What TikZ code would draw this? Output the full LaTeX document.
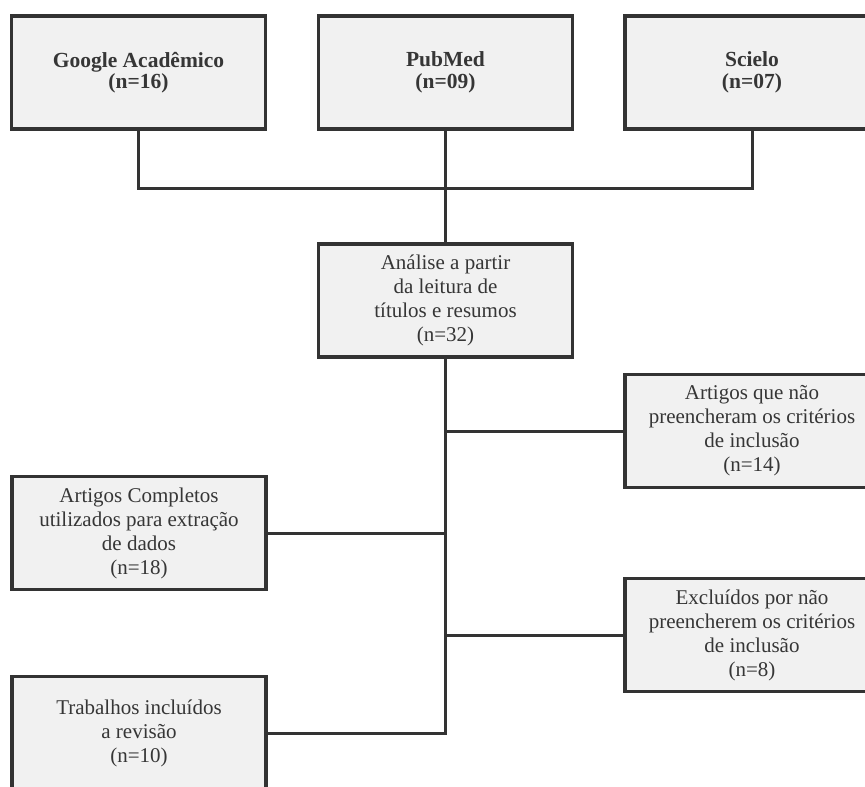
\documentclass[tikz,border=0pt]{standalone}
\usepackage{fontspec}
\setmainfont{Liberation Serif}
\definecolor{boxfill}{HTML}{F1F1F1}
\definecolor{edge}{HTML}{333333}
\definecolor{txt}{HTML}{363636}
\begin{document}
\begin{tikzpicture}[x=1pt,y=-1pt,
  box/.style={draw=edge, fill=boxfill, line width=3.2pt, minimum width=254pt, minimum height=113pt,
    inner sep=0pt, align=center, text=txt, font=\fontsize{21pt}{24pt}\selectfont},
  topbox/.style={box, font=\fontsize{21.5pt}{21.5pt}\selectfont\bfseries},
  link/.style={draw=edge, line width=3pt}]
\useasboundingbox (0,0) rectangle (865,787);
\clip (0,0) rectangle (865,787);
\fill[white] (0,0) rectangle (865,787);
\node[topbox] (google) at (138.5,72.5) {Google Acadêmico\\(n=16)};
\node[topbox] (pubmed) at (445.5,72.5) {PubMed\\(n=09)};
\node[topbox] (scielo) at (752,72.5) {Scielo\\(n=07)};
\node[box] (analise) at (445.5,300.5) {Análise a partir\\da leitura de\\títulos e resumos\\(n=32)};
\node[box] (naopre) at (752,431) {Artigos que não\\preencheram os critérios\\de inclusão\\(n=14)};
\node[box] (compl) at (139,533) {Artigos Completos\\utilizados para extração\\de dados\\(n=18)};
\node[box] (excl) at (752,635) {Excluídos por não\\preencherem os critérios\\de inclusão\\(n=8)};
\node[box] (trab) at (139,733) {Trabalhos incluídos\\a revisão\\(n=10)};
\coordinate (j) at (445.5,188);
\draw[link] (google.south) |- (j) -| (scielo.south);
\draw[link] (pubmed.south) -- (analise.north);
\draw[link] (analise.south) -- (analise.south |- trab.east) -- (trab.east);
\draw[link] (naopre.west) -- (naopre.west -| analise.south);
\draw[link] (compl.east) -- (compl.east -| analise.south);
\draw[link] (excl.west) -- (excl.west -| analise.south);
\end{tikzpicture}
\end{document}
